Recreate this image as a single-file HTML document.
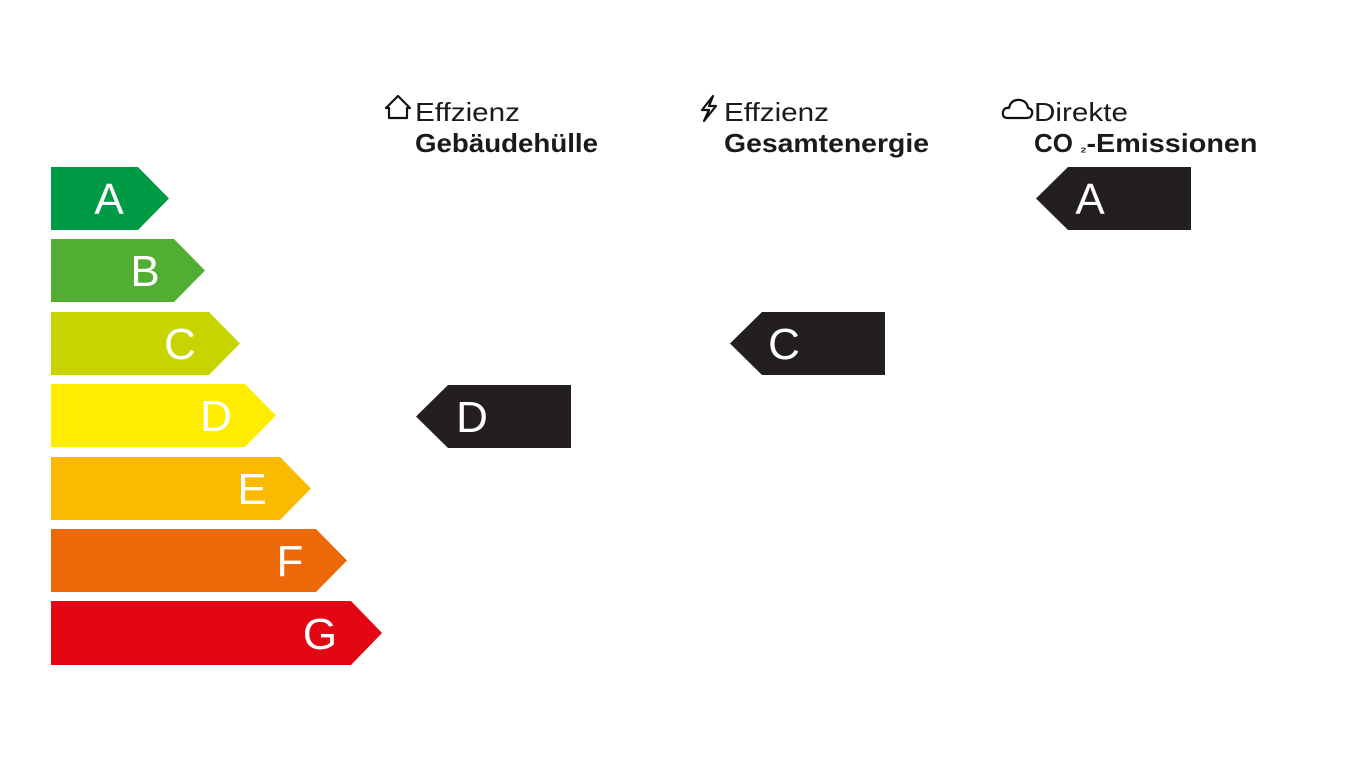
<!DOCTYPE html>
<html><head><meta charset="utf-8"><style>
html,body{margin:0;padding:0;background:#fff;width:1367px;height:769px;overflow:hidden}
</style></head><body>
<svg width="1367" height="769" viewBox="0 0 1367 769" xmlns="http://www.w3.org/2000/svg" font-family="Liberation Sans, sans-serif">
<g font-size="44" fill="#fff" text-anchor="middle">
<polygon points="51,167 138,167 169,198.5 138,230 51,230" fill="#009a44"/>
<text x="109" y="214">A</text>
<polygon points="51,239 174,239 205,270.5 174,302 51,302" fill="#52ae32"/>
<text x="145" y="286">B</text>
<polygon points="51,312 209,312 240,343.5 209,375 51,375" fill="#c8d400"/>
<text x="180" y="359">C</text>
<polygon points="51,384 245,384 276,415.5 245,447 51,447" fill="#ffed00"/>
<text x="216" y="431">D</text>
<polygon points="51,457 280,457 311,488.5 280,520 51,520" fill="#fbba00"/>
<text x="252" y="504">E</text>
<polygon points="51,529 316,529 347,560.5 316,592 51,592" fill="#eb6909"/>
<text x="290" y="576">F</text>
<polygon points="51,601 351,601 382,633 351,665 51,665" fill="#e30613"/>
<text x="320" y="649">G</text>

<polygon points="416,416.5 448,385 571,385 571,448 448,448" fill="#231f20"/>
<text x="472" y="432">D</text>
<polygon points="730,343.5 762,312 885,312 885,375 762,375" fill="#231f20"/>
<text x="784" y="359">C</text>
<polygon points="1036,198.5 1068,167 1191,167 1191,230 1068,230" fill="#231f20"/>
<text x="1090" y="214">A</text>
</g>
<g fill="#1a1a1a">
<text x="415" y="121" font-size="26" textLength="105" lengthAdjust="spacingAndGlyphs">Effzienz</text>
<text x="415" y="152" font-size="26" font-weight="bold" textLength="183" lengthAdjust="spacingAndGlyphs">Gebäudehülle</text>
<text x="724" y="121" font-size="26" textLength="105" lengthAdjust="spacingAndGlyphs">Effzienz</text>
<text x="724" y="152" font-size="26" font-weight="bold" textLength="205" lengthAdjust="spacingAndGlyphs">Gesamtenergie</text>
<text x="1034" y="121" font-size="26" textLength="94" lengthAdjust="spacingAndGlyphs">Direkte</text>
<text x="1034" y="152" font-size="26" font-weight="bold">CO <tspan font-size="14">₂</tspan><tspan textLength="171" lengthAdjust="spacingAndGlyphs">-Emissionen</tspan></text>
</g>
<g fill="none" stroke="#111" stroke-width="2.2" stroke-linejoin="round">
<path d="M386,108 L398,96 L410,108 L407,108 L407,118 L389,118 L389,108 Z"/>
<path d="M713,96 L702,110 L709,110 L704,121 L716,106 L709,106 Z"/>
<path d="M1008,118 Q1002,118 1003,112 Q1004,107 1009,108 Q1011,99 1020,100 Q1027,101 1028,108 Q1033,109 1032,114 Q1031,118 1027,118 Z"/>
</g>
</svg>
</body></html>
